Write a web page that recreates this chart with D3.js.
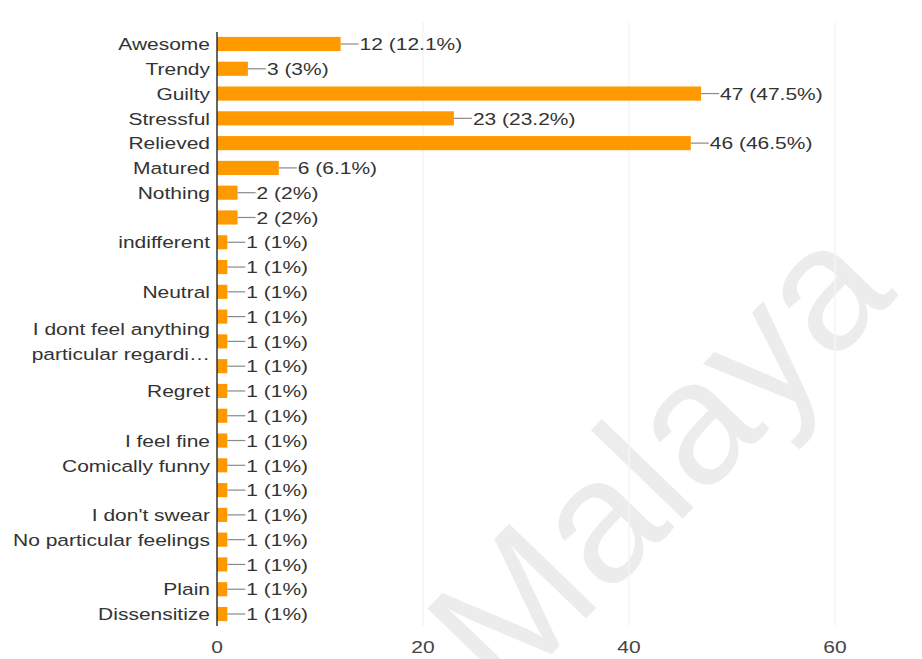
<!DOCTYPE html>
<html>
<head>
<meta charset="utf-8">
<script src="https://cdn.jsdelivr.net/npm/d3@7/dist/d3.min.js"></script>
<style>
  html, body { margin: 0; padding: 0; background: #ffffff; }
  svg { display: block; }
  text { font-family: "Liberation Sans", Arial, sans-serif; }
</style>
</head>
<body>
<svg id="chart" width="922" height="659"></svg>
<script>
// ---- data ----
const categories = [
  "Awesome", "Trendy", "Guilty", "Stressful", "Relieved", "Matured", "Nothing", "",
  "indifferent", "", "Neutral", "", "I dont feel anything\nparticular regardi\u2026", "",
  "Regret", "", "I feel fine", "Comically funny", "", "I don't swear",
  "No particular feelings", "", "Plain", "Dissensitize"
];
const counts = [12, 3, 47, 23, 46, 6, 2, 2, 1, 1, 1, 1, 1, 1, 1, 1, 1, 1, 1, 1, 1, 1, 1, 1];
const percents = ["12.1%", "3%", "47.5%", "23.2%", "46.5%", "6.1%", "2%", "2%",
  "1%", "1%", "1%", "1%", "1%", "1%", "1%", "1%", "1%", "1%", "1%", "1%", "1%", "1%", "1%", "1%"];
const xTicks = [0, 20, 40, 60];
const watermark = "Malaya";

// ---- layout ----
const svg = d3.select("#chart");
const FS = 17.2, SX = 1.22;

const x = d3.scaleLinear().domain([0, 60]).range([217, 835]);
const y = d3.scaleBand()
  .domain(d3.range(categories.length))
  .range([31.6, 626.4])
  .paddingInner(0.43)
  .paddingOuter(0.215);

// watermark
svg.append("text")
  .attr("transform", "translate(701.6,499) rotate(-46)")
  .attr("text-anchor", "middle")
  .attr("font-size", 176)
  .attr("fill", "#ececec")
  .text(watermark);

// faint gridlines
svg.append("g").selectAll("line")
  .data(xTicks.filter(d => d > 0))
  .join("line")
  .attr("x1", d => x(d)).attr("x2", d => x(d))
  .attr("y1", 22).attr("y2", 626)
  .attr("stroke", "#f4f4f4").attr("stroke-width", 1.5);

// bars
svg.append("g").selectAll("rect")
  .data(counts)
  .join("rect")
  .attr("x", x(0))
  .attr("y", (d, i) => y(i))
  .attr("width", d => x(d) - x(0))
  .attr("height", y.bandwidth())
  .attr("fill", "#ff9900");

// connector lines and value labels
const lab = svg.append("g");
lab.selectAll("line")
  .data(counts)
  .join("line")
  .attr("x1", d => x(d))
  .attr("x2", d => x(d) + 18)
  .attr("y1", (d, i) => y(i) + y.bandwidth() / 2)
  .attr("y2", (d, i) => y(i) + y.bandwidth() / 2)
  .attr("stroke", "#8a8a8a").attr("stroke-width", 1.2);
lab.selectAll("text")
  .data(counts)
  .join("text")
  .attr("transform", (d, i) => `translate(${x(d) + 19},${y(i) + y.bandwidth() / 2}) scale(${SX},1)`)
  .attr("dy", "0.36em")
  .attr("font-size", FS)
  .attr("fill", "#333")
  .text((d, i) => `${d} (${percents[i]})`);

// category labels
const cat = svg.append("g");
categories.forEach((c, i) => {
  if (!c) return;
  const lines = c.split("\n");
  const cy = y(i) + y.bandwidth() / 2;
  lines.forEach((ln, k) => {
    const off = (k - (lines.length - 1) / 2) * 25;
    cat.append("text")
      .attr("transform", `translate(210,${cy + off}) scale(${SX},1)`)
      .attr("text-anchor", "end")
      .attr("dy", "0.36em")
      .attr("font-size", FS)
      .attr("fill", "#333")
      .text(ln);
  });
});

// axis line
svg.append("line")
  .attr("x1", x(0)).attr("x2", x(0))
  .attr("y1", 32).attr("y2", 626)
  .attr("stroke", "#333").attr("stroke-width", 1.5);

// x tick labels
svg.append("g").selectAll("text")
  .data(xTicks)
  .join("text")
  .attr("transform", d => `translate(${x(d)},647) scale(${SX},1)`)
  .attr("text-anchor", "middle")
  .attr("dy", "0.36em")
  .attr("font-size", FS)
  .attr("fill", "#444")
  .text(d => d);
</script>
</body>
</html>
